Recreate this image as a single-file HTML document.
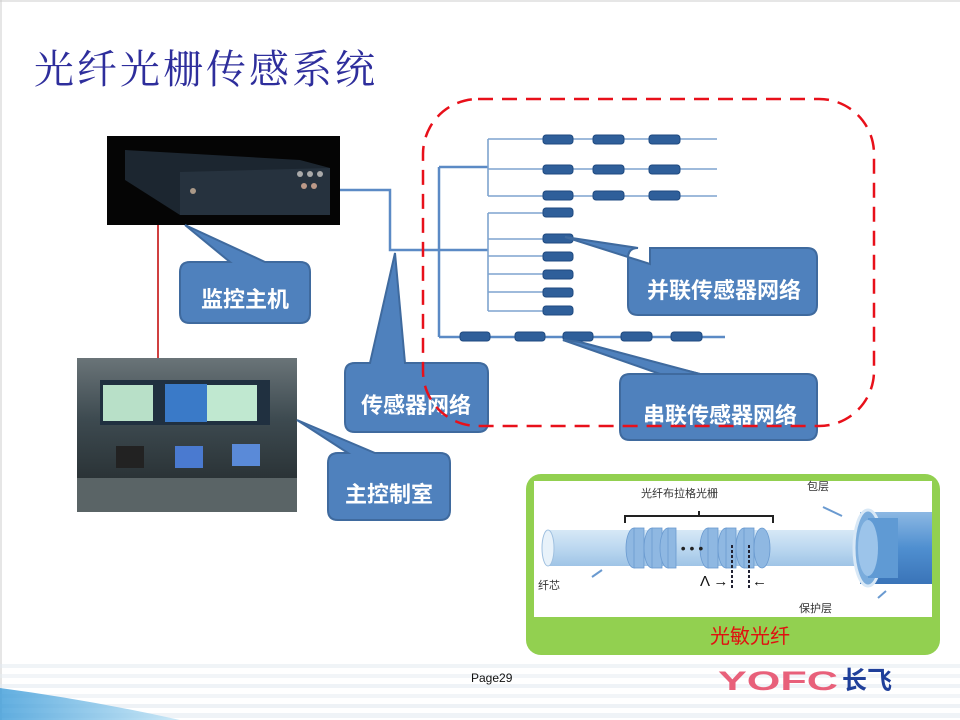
<!DOCTYPE html>
<html><head><meta charset="utf-8"><style>
html,body{margin:0;padding:0;background:#fff;}
svg{display:block;font-family:"Liberation Sans","Noto Sans CJK SC",sans-serif;}
</style></head><body>
<svg width="960" height="720" viewBox="0 0 960 720" xmlns="http://www.w3.org/2000/svg">
<defs>
<linearGradient id="sw" x1="0" y1="0" x2="1" y2="0"><stop offset="0" stop-color="#3a9ad8"/><stop offset="1" stop-color="#bfe3f5"/></linearGradient>
<linearGradient id="cyl" x1="0" y1="0" x2="0" y2="1"><stop offset="0" stop-color="#d6e8f6"/><stop offset="0.5" stop-color="#bcd8f0"/><stop offset="1" stop-color="#9fc4e6"/></linearGradient>
<linearGradient id="big" x1="0" y1="0" x2="0" y2="1"><stop offset="0" stop-color="#8cb8e3"/><stop offset="0.5" stop-color="#4f8fd0"/><stop offset="1" stop-color="#3a74b8"/></linearGradient>
<linearGradient id="room" x1="0" y1="0" x2="0" y2="1"><stop offset="0" stop-color="#6a7478"/><stop offset="0.4" stop-color="#3d4a50"/><stop offset="1" stop-color="#202628"/></linearGradient>
</defs>
<rect x="0" y="0" width="960" height="720" fill="#fff"/>
<line x1="0" y1="1" x2="960" y2="1" stroke="#ccc"/>
<line x1="1" y1="0" x2="1" y2="720" stroke="#ccc"/>
<g opacity="0.55">
<rect x="0" y="664" width="960" height="4" fill="#e4ecf2"/>
<rect x="0" y="674" width="960" height="4" fill="#e8eef3"/>
<rect x="0" y="684" width="960" height="4" fill="#e3ebf1"/>
<rect x="0" y="694" width="960" height="4" fill="#e8eef3"/>
<rect x="0" y="704" width="960" height="4" fill="#e1e9f0"/>
<rect x="0" y="713" width="960" height="5" fill="#e3ebf2"/>
</g>
<path d="M0 688 Q90 700 180 720 L0 720 Z" fill="url(#sw)" opacity="0.8"/>
<text x="34" y="83" font-size="40" fill="#2e2e9c" font-family="'Liberation Serif','Noto Serif CJK SC',serif" letter-spacing="3">光纤光栅传感系统</text>

<rect x="107" y="136" width="233" height="89" fill="#050505"/>
<path d="M125 150 L300 160 L330 168 L330 215 L180 215 L125 180 Z" fill="#1c2630"/>
<path d="M180 172 L330 168 L330 215 L180 215 Z" fill="#26323e"/>
<circle cx="300" cy="174" r="3" fill="#aaa"/><circle cx="310" cy="174" r="3" fill="#aaa"/><circle cx="320" cy="174" r="3" fill="#aaa"/>
<circle cx="304" cy="186" r="3" fill="#b98"/><circle cx="314" cy="186" r="3" fill="#b98"/>
<circle cx="193" cy="191" r="3" fill="#a98"/>
<line x1="158" y1="225" x2="158" y2="358" stroke="#d04040" stroke-width="2"/>
<rect x="77" y="358" width="220" height="154" fill="url(#room)"/>
<rect x="100" y="380" width="170" height="45" fill="#203040"/>
<rect x="103" y="385" width="50" height="36" fill="#b8e0c8"/>
<rect x="165" y="384" width="42" height="38" fill="#3a7ac8"/>
<rect x="207" y="385" width="50" height="36" fill="#c0e8d0"/>
<rect x="116" y="446" width="28" height="22" fill="#222"/>
<rect x="175" y="446" width="28" height="22" fill="#4a7ad0"/>
<rect x="232" y="444" width="28" height="22" fill="#5a8ad8"/>
<rect x="77" y="478" width="220" height="34" fill="#5a6466"/>

<g stroke="#5b8ac5" stroke-width="2.5" fill="none">
<polyline points="340,190 390,190 390,250 488,250"/>
<line x1="439" y1="167" x2="439" y2="337"/>
<line x1="439" y1="167" x2="488" y2="167"/>
<line x1="439" y1="337" x2="725" y2="337"/>
</g>
<g stroke="#7ea3cf" stroke-width="1.6" fill="none">
<line x1="488" y1="139" x2="488" y2="196"/>
<line x1="488" y1="139" x2="717" y2="139"/>
<line x1="488" y1="169" x2="717" y2="169"/>
<line x1="488" y1="196" x2="717" y2="196"/>
<line x1="488" y1="213" x2="488" y2="311"/>
<line x1="488" y1="213" x2="550" y2="213"/>
<line x1="488" y1="239" x2="550" y2="239"/>
<line x1="488" y1="256" x2="550" y2="256"/>
<line x1="488" y1="274" x2="550" y2="274"/>
<line x1="488" y1="292" x2="550" y2="292"/>
<line x1="488" y1="311" x2="550" y2="311"/>
</g>
<g fill="#2f5f9a" stroke="#1f4a80" stroke-width="1">
<rect x="543" y="135" width="30" height="9" rx="3"/><rect x="593" y="135" width="31" height="9" rx="3"/><rect x="649" y="135" width="31" height="9" rx="3"/>
<rect x="543" y="165" width="30" height="9" rx="3"/><rect x="593" y="165" width="31" height="9" rx="3"/><rect x="649" y="165" width="31" height="9" rx="3"/>
<rect x="543" y="191" width="30" height="9" rx="3"/><rect x="593" y="191" width="31" height="9" rx="3"/><rect x="649" y="191" width="31" height="9" rx="3"/>
<rect x="543" y="208" width="30" height="9" rx="3"/>
<rect x="543" y="234" width="30" height="9" rx="3"/>
<rect x="543" y="252" width="30" height="9" rx="3"/>
<rect x="543" y="270" width="30" height="9" rx="3"/>
<rect x="543" y="288" width="30" height="9" rx="3"/>
<rect x="543" y="306" width="30" height="9" rx="3"/>
<rect x="460" y="332" width="30" height="9" rx="3"/><rect x="515" y="332" width="30" height="9" rx="3"/><rect x="563" y="332" width="30" height="9" rx="3"/><rect x="621" y="332" width="31" height="9" rx="3"/><rect x="671" y="332" width="31" height="9" rx="3"/>
</g>

<g fill="#4f81bd" stroke="#3f6a9e" stroke-width="2">
<path d="M190 262 L230 262 L185 225 L265 262 L300 262 Q310 262 310 272 L310 313 Q310 323 300 323 L190 323 Q180 323 180 313 L180 272 Q180 262 190 262 Z"/>
<path d="M355 363 L370 363 L395 253 L405 363 L478 363 Q488 363 488 373 L488 422 Q488 432 478 432 L355 432 Q345 432 345 422 L345 373 Q345 363 355 363 Z"/>
<path d="M338 453 L348 453 L297 420 L375 453 L440 453 Q450 453 450 463 L450 510 Q450 520 440 520 L338 520 Q328 520 328 510 L328 463 Q328 453 338 453 Z"/>
<path d="M638 248 L565 237 L650 264 L650 248 L807 248 Q817 248 817 258 L817 305 Q817 315 807 315 L638 315 Q628 315 628 305 L628 258 Q628 248 638 248 Z"/>
<path d="M630 374 L700 374 L563 340 L700 374 L807 374 Q817 374 817 384 L817 430 Q817 440 807 440 L630 440 Q620 440 620 430 L620 384 Q620 374 630 374 Z"/>
<path d="M563 340 L580 342 L700 374 L660 374 Z"/>
</g>
<g fill="#fff" font-size="22" font-weight="bold" text-anchor="middle">
<text x="245" y="307">监控主机</text>
<text x="416" y="413">传感器网络</text>
<text x="389" y="502">主控制室</text>
<text x="724" y="298">并联传感器网络</text>
<text x="720" y="423">串联传感器网络</text>
</g>

<rect x="423" y="99" width="451" height="327" rx="55" fill="none" stroke="#e8101a" stroke-width="2.5" stroke-dasharray="15,9"/>

<rect x="526" y="474" width="414" height="181" rx="15" fill="#92d050"/>
<rect x="534" y="481" width="398" height="136" fill="#fff"/>
<rect x="548" y="530" width="312" height="36" fill="url(#cyl)"/>
<ellipse cx="548" cy="548" rx="6" ry="18" fill="#e8f2fa" stroke="#9fc0e0"/>
<g fill="#8fb8e2" stroke="#6a9ad0" stroke-width="0.8">
<ellipse cx="634" cy="548" rx="8" ry="20"/><rect x="634" y="528" width="10" height="40"/>
<ellipse cx="652" cy="548" rx="8" ry="20"/><rect x="652" y="528" width="10" height="40"/>
<ellipse cx="668" cy="548" rx="8" ry="20"/><rect x="668" y="528" width="8" height="40"/>
<ellipse cx="708" cy="548" rx="8" ry="20"/><rect x="708" y="528" width="10" height="40"/>
<ellipse cx="726" cy="548" rx="8" ry="20"/><rect x="726" y="528" width="10" height="40"/>
<ellipse cx="744" cy="548" rx="8" ry="20"/><rect x="744" y="528" width="10" height="40"/>
<ellipse cx="762" cy="548" rx="8" ry="20"/>
</g>
<text x="692" y="553" font-size="14" fill="#222" text-anchor="middle">• • •</text>
<rect x="860" y="512" width="72" height="72" fill="url(#big)"/>
<ellipse cx="868" cy="548" rx="14" ry="38" fill="#7aacdc" stroke="#d8e8f6" stroke-width="3"/>
<rect x="868" y="518" width="30" height="60" fill="#5f9ad4"/>
<ellipse cx="868" cy="548" rx="10" ry="28" fill="#9cc4ea"/>
<path d="M625 523 L625 516 L773 516 L773 523 M699 516 L699 511" fill="none" stroke="#222" stroke-width="2"/>
<line x1="732" y1="545" x2="732" y2="590" stroke="#223" stroke-width="2" stroke-dasharray="3,2"/>
<line x1="749" y1="545" x2="749" y2="590" stroke="#223" stroke-width="2" stroke-dasharray="3,2"/>
<text x="700" y="586" font-size="15" fill="#111">Λ →</text>
<text x="752" y="586" font-size="15" fill="#111">←</text>
<g font-size="11" fill="#333">
<text x="641" y="497">光纤布拉格光栅</text>
<text x="807" y="490">包层</text>
<text x="538" y="589">纤芯</text>
<text x="799" y="612">保护层</text>
</g>
<g stroke="#6a9ad0" stroke-width="2"><line x1="592" y1="577" x2="602" y2="570"/><line x1="823" y1="507" x2="842" y2="516"/><line x1="878" y1="598" x2="886" y2="591"/></g>
<text x="750" y="643" font-size="20" fill="#e01010" text-anchor="middle">光敏光纤</text>

<text x="471" y="682" font-size="12" fill="#111">Page29</text>
<text x="718" y="690" font-size="27" font-weight="bold" fill="#e8607a" textLength="120" lengthAdjust="spacingAndGlyphs" font-family="'Liberation Sans',sans-serif">YOFC</text>
<text x="842" y="689" font-size="25" font-weight="bold" fill="#1f3f9a">长飞</text>
</svg>
</body></html>
